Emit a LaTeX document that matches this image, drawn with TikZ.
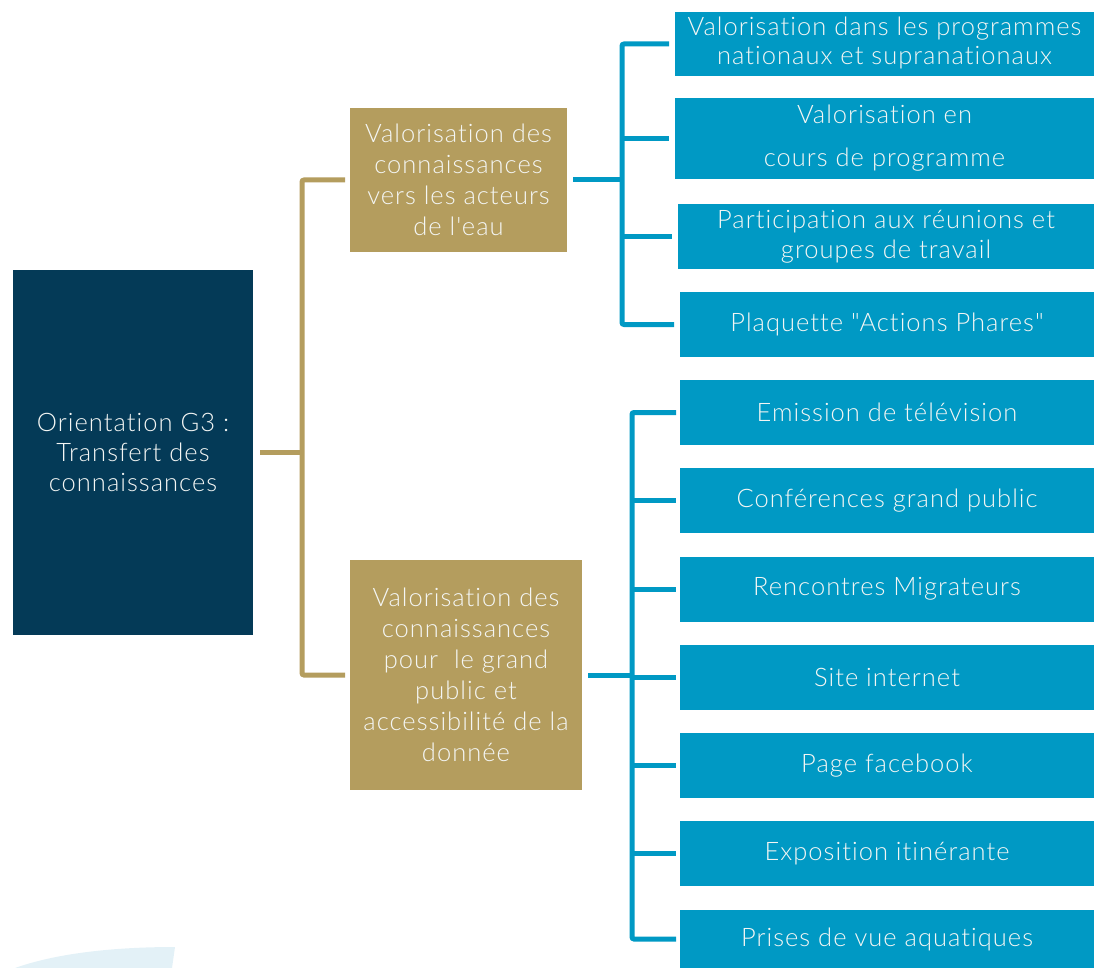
\documentclass[tikz,border=0pt]{standalone}
\usepackage{fontspec}
\setmainfont{Lato}[UprightFont={* Light},Ligatures={TeXOff,CommonOff},LetterSpace=4]
\begin{document}
\begin{tikzpicture}[x=1pt,y=-1pt,
  box/.style={rectangle,inner sep=0pt,outer sep=0pt,text=txt,align=center,
    font=\fontsize{25.5}{30}\selectfont},
  rootbox/.style={box,fill=navy},
  midbox/.style={box,fill=gold,font=\fontsize{25.5}{31}\selectfont},
  leafbox/.style={box,fill=cyanb,font=\fontsize{25.5}{29.5}\selectfont},
  gl/.style={draw=gold,line width=5pt,rounded corners=2pt},
  bl/.style={draw=cyanb,line width=5pt,rounded corners=2pt}]
\definecolor{navy}{HTML}{043A57}
\definecolor{gold}{HTML}{B49D5E}
\definecolor{cyanb}{HTML}{0099C4}
\definecolor{faint}{HTML}{E3F1F7}
\definecolor{txt}{HTML}{F4F6F4}
\useasboundingbox (0,0) rectangle (1094,968);
\fill[faint] (15,968) .. controls (60,952) and (120,947) .. (175,947) -- (172,968) -- cycle;

\node[rootbox,minimum width=240pt,minimum height=365pt] (root) at (133,452.5)
  {Orientation G3 :\\Transfert des\\connaissances};
\node[midbox,minimum width=217pt,minimum height=144pt] (m1) at (458.5,180)
  {Valorisation des\\connaissances\\vers les acteurs\\de l'eau};
\node[midbox,minimum width=232pt,minimum height=230pt] (m2) at (466,675)
  {Valorisation des\\connaissances\\pour\ \ le grand\\public et\\accessibilité de la\\donnée};

\node[leafbox,minimum width=419pt,minimum height=64pt] (l1) at (884.5,44)
  {\raisebox{-2.5pt}{\begin{tabular}{@{}c@{}}Valorisation dans les programmes\\nationaux et supranationaux\end{tabular}}};
\node[leafbox,minimum width=419pt,minimum height=81pt,font=\fontsize{25.5}{43}\selectfont] (l2) at (884.5,138.5)
  {Valorisation en\\cours de programme};
\node[leafbox,minimum width=416pt,minimum height=65pt] (l3) at (886,236.5)
  {Participation aux réunions et\\groupes de travail};
\node[leafbox,minimum width=414pt,minimum height=65pt] (l4) at (887,324.5)
  {Plaquette "Actions Phares"};

\node[leafbox,minimum width=414pt,minimum height=65pt] (e1) at (887,412.5) {Emission de télévision};
\node[leafbox,minimum width=414pt,minimum height=65pt] (e2) at (887,500.5) {Conférences grand public};
\node[leafbox,minimum width=414pt,minimum height=65pt] (e3) at (887,589) {Rencontres Migrateurs};
\node[leafbox,minimum width=414pt,minimum height=65pt] (e4) at (887,677.5) {Site internet};
\node[leafbox,minimum width=414pt,minimum height=65pt] (e5) at (887,765.5) {Page facebook};
\node[leafbox,minimum width=414pt,minimum height=65pt] (e6) at (887,853.5) {Exposition itinérante};
\node[leafbox,minimum width=414pt,minimum height=58pt] (e7) at (887,939) {Prises de vue aquatiques};

% gold connectors
\coordinate (g) at (302,452.5);
\draw[gl] ([xshift=-5pt]m1.west) -- (g |- m1.west) -- (g |- m2.west) -- ([xshift=-5pt]m2.west);
\draw[gl] ([xshift=7pt]root.east) -- (g |- root.east);

% blue top connectors
\coordinate (b1) at (622,180);
\draw[bl] ([xshift=6pt]m1.east) -- (b1 |- m1.east);
\draw[bl] ([xshift=-6pt]l1.west) -- (b1 |- l1.west) -- (b1 |- l4.west) -- ([xshift=-6pt]l4.west);
\draw[bl] (b1 |- l2.west) -- ([xshift=-6pt]l2.west);
\draw[bl] (b1 |- l3.west) -- ([xshift=-6pt]l3.west);

% blue bottom connectors
\coordinate (b2) at (632,675);
\draw[bl] ([xshift=6pt]m2.east) -- (b2 |- m2.east);
\draw[bl] ([xshift=-4pt]e1.west) -- (b2 |- e1.west) -- (b2 |- e7.west) -- ([xshift=-4pt]e7.west);
\foreach \n in {e2,e3,e4,e5,e6}
  \draw[bl] (b2 |- \n.west) -- ([xshift=-4pt]\n.west);
\end{tikzpicture}
\end{document}
